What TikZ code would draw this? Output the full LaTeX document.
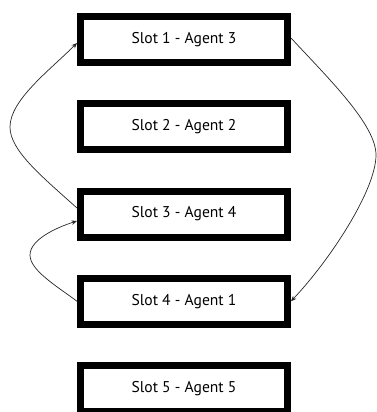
\documentclass[tikz,border=0pt]{standalone}
\usepackage{fontspec}
\setmainfont{PT Sans}
\usetikzlibrary{arrows.meta}
\begin{document}
\begin{tikzpicture}[x=1pt,y=1pt,
  slotbox/.style={draw=black, line width=7pt, fill=white, minimum width=207pt, minimum height=46pt, inner sep=0pt, font=\fontsize{15.6}{18}\selectfont},
  link/.style={draw=black!85, line width=0.7pt, -{Stealth[length=5.5pt,width=4.5pt]}}]
\useasboundingbox (0,0) rectangle (377,-412);
\node[slotbox] (s1) at (184,-39.5) {Slot 1 - Agent 3};
\node[slotbox] (s2) at (184,-126.75) {Slot 2 - Agent 2};
\node[slotbox] (s3) at (184,-214) {Slot 3 - Agent 4};
\node[slotbox] (s4) at (184,-301.25) {Slot 4 - Agent 1};
\node[slotbox] (s5) at (184,-388.5) {Slot 5 - Agent 5};
\draw[link] ([yshift=6pt]s3.west) .. controls (40,-175) and (10,-150) .. (10,-127) .. controls (10,-100) and (50,-70) .. ([yshift=-3.5pt]s1.west);
\draw[link] ([yshift=1.5pt]s1.east) .. controls (330,-80) and (376,-125) .. (376,-155) .. controls (376,-190) and (330,-260) .. (s4.east);
\draw[link] (s4.west) .. controls (55,-285) and (30,-270) .. (30,-255) .. controls (30,-240) and (55,-228) .. ([yshift=-7pt]s3.west);
\end{tikzpicture}
\end{document}
